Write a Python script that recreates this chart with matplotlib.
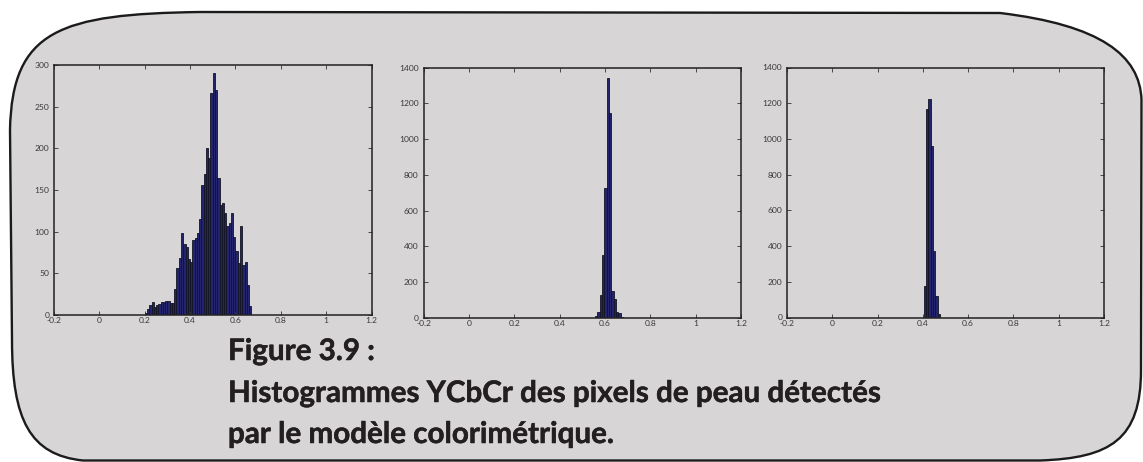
import matplotlib
matplotlib.use("Agg")
import matplotlib.pyplot as plt
import matplotlib.patheffects as pe
from matplotlib.path import Path
from matplotlib.patches import PathPatch

# ---- histogram data (bin start, bin width, counts) ----
y_start, y_width = 0.20, 0.01
y_counts = [3, 7, 12, 16, 10, 12, 13, 16, 16, 17, 17, 14, 14, 31, 56, 68, 99, 85,
            82, 67, 64, 90, 93, 98, 115, 156, 169, 201, 188, 267, 290, 270, 165,
            132, 135, 122, 107, 110, 122, 94, 77, 62, 107, 60, 64, 36, 11]

cb_start, cb_width = 0.556, 0.0103
cb_counts = [9, 30, 127, 351, 724, 1340, 1148, 151, 105, 34, 28, 6]

cr_start, cr_width = 0.404, 0.0103
cr_counts = [177, 1167, 1223, 958, 370, 118, 19]

x_ticks = [-0.2, 0, 0.2, 0.4, 0.6, 0.8, 1, 1.2]
x_ticklabels = ["-0.2", "0", "0.2", "0.4", "0.6", "0.8", "1", "1.2"]
y_ticks_small = [0, 50, 100, 150, 200, 250, 300]
y_ticks_large = [0, 200, 400, 600, 800, 1000, 1200, 1400]

caption = ["Figure 3.9 :",
           "Histogrammes YCbCr des pixels de peau détectés",
           "par le modèle colorimétrique."]

W, H = 1143, 462
BG = "#d7d5d6"
BAR_FACE = "#24246e"
BAR_EDGE = "#141424"
TXT = "#231f20"
CAPTION_FONT = "Lato"

fig = plt.figure(figsize=(W / 100, H / 100), dpi=100)
fig.patch.set_facecolor("white")

# ---- rounded frame drawn in pixel coordinates ----
bg = fig.add_axes([0, 0, 1, 1], zorder=0)
bg.set_xlim(0, W)
bg.set_ylim(H, 0)
bg.axis("off")
verts = [
    (83, 460.5),
    (1040, 460.5),
    (1110, 458), (1141, 440), (1141, 370),
    (1141.5, 100),
    (1140, 55), (1100, 25), (1000, 13),
    (200, 12),
    (60, 14), (12, 30), (10, 130),
    (12, 340),
    (12, 420), (30, 455), (83, 460.5),
    (83, 460.5),
]
codes = [Path.MOVETO, Path.LINETO,
         Path.CURVE4, Path.CURVE4, Path.CURVE4,
         Path.LINETO,
         Path.CURVE4, Path.CURVE4, Path.CURVE4,
         Path.LINETO,
         Path.CURVE4, Path.CURVE4, Path.CURVE4,
         Path.LINETO,
         Path.CURVE4, Path.CURVE4, Path.CURVE4,
         Path.CLOSEPOLY]
bg.add_patch(PathPatch(Path(verts, codes), facecolor=BG, edgecolor="#1b1b1b",
                       lw=1.7, joinstyle="round"))


def px_rect(left, right, top, bottom):
    return [left / W, (H - bottom) / H, (right - left) / W, (bottom - top) / H]


def histo(rect, start, width, counts, ymax, yticks):
    ax = fig.add_axes(rect, zorder=2)
    ax.set_facecolor("none")
    lefts = [start + i * width for i in range(len(counts))]
    ax.bar(lefts, counts, width=width, align="edge", color=BAR_FACE,
           edgecolor=BAR_EDGE, linewidth=0.6)
    ax.set_xlim(-0.2, 1.2)
    ax.set_ylim(0, ymax)
    ax.set_xticks(x_ticks)
    ax.set_xticklabels(x_ticklabels)
    ax.set_yticks(yticks)
    ax.tick_params(direction="in", length=3, width=0.6, color="#333333",
                   top=True, right=True, labelsize=6.1, labelcolor="#3a3a3a")
    ax.tick_params(axis="x", pad=1.5)
    ax.tick_params(axis="y", pad=3.5)
    for lab in ax.get_xticklabels() + ax.get_yticklabels():
        lab.set_family("Lato")
    for s in ax.spines.values():
        s.set_linewidth(1.1)
        s.set_color("#222222")
    return ax


histo(px_rect(54, 371.5, 65, 315), y_start, y_width, y_counts, 300, y_ticks_small)
histo(px_rect(423.5, 741, 67.7, 317.7), cb_start, cb_width, cb_counts, 1400, y_ticks_large)
histo(px_rect(787, 1104, 67.5, 317.5), cr_start, cr_width, cr_counts, 1400, y_ticks_large)

# ---- caption ----
fig.canvas.draw()
renderer = fig.canvas.get_renderer()
style = dict(ha="left", va="baseline", fontweight="bold", family=CAPTION_FONT,
             color=TXT, zorder=5,
             path_effects=[pe.withStroke(linewidth=0.35, foreground=TXT)])

# size the caption so that the opening words of the second line span ~338 px
probe = fig.text(0, 0, caption[1].split(" des ")[0] + " des", fontsize=20, **style)
size = 20 * 338 / probe.get_window_extent(renderer).width
probe.remove()

baselines = [360, 402, 443]
for line, yb in zip(caption, baselines):
    fig.text(228 / W, (H - yb) / H, line, fontsize=size, **style)

fig.savefig("out.png", dpi=100, facecolor=fig.get_facecolor())
